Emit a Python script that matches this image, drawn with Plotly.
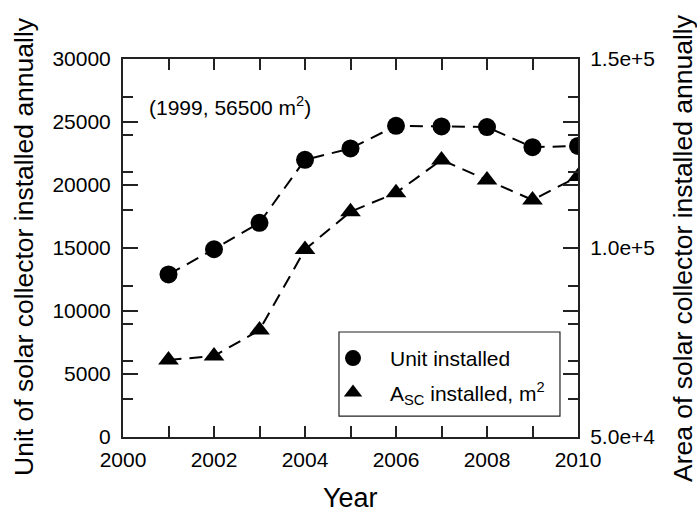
import plotly.graph_objects as go

years = [2001, 2002, 2003, 2004, 2005, 2006, 2007, 2008, 2009, 2010]
units = [12900, 14900, 17000, 22000, 22900, 24700, 24650, 24600, 23000, 23100]
area = [70400, 71400, 78300, 99600, 109600, 114600, 123300, 118000, 112700, 118900]

x_tickvals = list(range(2000, 2011))
x_ticktext = ["2000", "", "2002", "", "2004", "", "2006", "", "2008", "", "2010"]
y2_tickvals = list(range(50000, 150001, 10000))
y2_ticktext = ["5.0e+4", "", "", "", "", "1.0e+5", "", "", "", "", "1.5e+5"]

FONT = "Arial, 'Liberation Sans', sans-serif"
DASH = "13px,8px"

fig = go.Figure()
fig.add_trace(go.Scatter(x=years, y=units, mode="lines", line=dict(color="black", width=2, dash=DASH),
                         showlegend=False, hoverinfo="skip"))
fig.add_trace(go.Scatter(x=years, y=area, mode="lines", yaxis="y2",
                         line=dict(color="black", width=2, dash=DASH), showlegend=False, hoverinfo="skip"))
fig.add_trace(go.Scatter(x=years, y=units, mode="markers", name="Unit installed", legendgroup="a",
                         marker=dict(symbol="circle", size=18, color="black")))
fig.add_trace(go.Scatter(x=years, y=area, mode="markers", yaxis="y2", legendgroup="b",
                         name="A<sub>SC</sub> installed, m<sup>2</sup>",
                         marker=dict(symbol="triangle-up", size=18, color="black")))

axis_common = dict(showgrid=False, zeroline=False, showline=True, linecolor="#222", linewidth=2,
                   ticks="inside", tickcolor="#222", tickwidth=1.5,
                   tickfont=dict(family=FONT, size=21, color="black"))

fig.update_layout(
    width=697, height=512,
    margin=dict(l=123, r=119, t=59, b=75),
    paper_bgcolor="white", plot_bgcolor="white",
    font=dict(family=FONT, color="black"),
    xaxis=dict(range=[2000, 2010], tickmode="array", tickvals=x_tickvals, ticktext=x_ticktext,
               ticklen=11, mirror="ticks", ticklabelstandoff=3, **axis_common),
    yaxis=dict(range=[0, 30000], dtick=5000, tick0=0, tickformat="d", ticklen=15, mirror="ticks",
               ticklabelstandoff=6, **axis_common),
    yaxis2=dict(range=[50000, 150000], overlaying="y", side="right", tickmode="array",
                tickvals=y2_tickvals, ticktext=y2_ticktext, ticklen=10, mirror="ticks",
                ticklabelstandoff=6, **axis_common),
    legend=dict(x=(316 - 123) / 455, y=0.262, xanchor="left", yanchor="top", bgcolor="rgba(0,0,0,0)",
                borderwidth=0, font=dict(family=FONT, size=21, color="black"),
                tracegroupgap=4, itemsizing="trace", itemwidth=64),
    showlegend=True,
)

fig.add_shape(type="rect", xref="paper", yref="paper", x0=0.4747, x1=0.9604, y0=0.0554, y1=0.2778,
              line=dict(color="#222", width=1.2), fillcolor="rgba(0,0,0,0)")

fig.add_annotation(text="(1999, 56500 m<sup>2</sup>)", xref="paper", yref="paper",
                   x=(147 - 123) / 455, y=(437 - 106) / 378, xanchor="left", yanchor="middle",
                   showarrow=False, font=dict(family=FONT, size=21, color="black"))
fig.add_annotation(text="Year", xref="paper", yref="paper", x=0.5, y=(437 - 498) / 378,
                   xanchor="center", yanchor="middle", showarrow=False,
                   font=dict(family=FONT, size=27, color="black"))
fig.add_annotation(text="Unit of solar collector installed annually", xref="paper", yref="paper",
                   x=(24 - 123) / 455, y=(437 - 247) / 378, xanchor="center", yanchor="middle",
                   textangle=-90, showarrow=False, font=dict(family=FONT, size=26.5, color="black"))
fig.add_annotation(text="Area of solar collector installed annually", xref="paper", yref="paper",
                   x=(683 - 123) / 455, y=(437 - 248) / 378, xanchor="center", yanchor="middle",
                   textangle=-90, showarrow=False, font=dict(family=FONT, size=26.5, color="black"))

fig.write_html("out.html")
